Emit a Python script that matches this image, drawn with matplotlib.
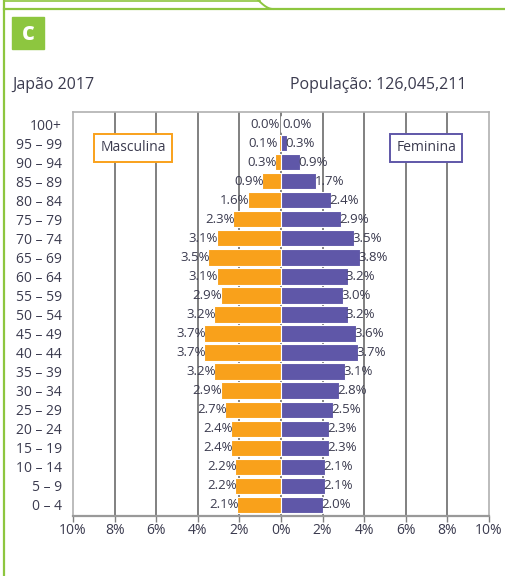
import matplotlib.pyplot as plt
import numpy as np
from matplotlib.lines import Line2D
from matplotlib.patches import Rectangle

plt.rcParams['font.family'] = ['Open Sans', 'DejaVu Sans']

ages = ['0 – 4', '5 – 9', '10 – 14', '15 – 19', '20 – 24', '25 – 29', '30 – 34',
        '35 – 39', '40 – 44', '45 – 49', '50 – 54', '55 – 59', '60 – 64', '65 – 69',
        '70 – 74', '75 – 79', '80 – 84', '85 – 89', '90 – 94', '95 – 99', '100+']
male = [2.1, 2.2, 2.2, 2.4, 2.4, 2.7, 2.9, 3.2, 3.7, 3.7, 3.2, 2.9, 3.1, 3.5,
        3.1, 2.3, 1.6, 0.9, 0.3, 0.1, 0.0]
female = [2.0, 2.1, 2.1, 2.3, 2.3, 2.5, 2.8, 3.1, 3.7, 3.6, 3.2, 3.0, 3.2, 3.8,
          3.5, 2.9, 2.4, 1.7, 0.9, 0.3, 0.0]
ticks = [-10, -8, -6, -4, -2, 0, 2, 4, 6, 8, 10]

orange = '#F9A11B'
purple = '#5F57A8'
green = '#8DC63F'
txt = '#3b3b4f'

fig = plt.figure(figsize=(5.05, 5.76), dpi=100)
ax = fig.add_axes([73/505, 60/576, 416/505, 404/576])

y = np.arange(len(ages))
ax.barh(y, [-v for v in male], height=0.86, color=orange, edgecolor='white', linewidth=0.8, zorder=3)
ax.barh(y, female, height=0.86, color=purple, edgecolor='white', linewidth=0.8, zorder=3)

for i, (m, f) in enumerate(zip(male, female)):
    om = 0.08 if m > 0.2 else -0.06
    of = 0.08 if f > 0.2 else -0.06
    ax.text(-m + om, i, '%.1f%%' % m, ha='right', va='center', fontsize=9.5,
            color=txt, zorder=4)
    ax.text(f - of, i, '%.1f%%' % f, ha='left', va='center', fontsize=9.5,
            color=txt, zorder=4)

for t in ticks[1:-1]:
    ax.axvline(t, color='#808080', linewidth=1.4, zorder=1)

ax.set_xlim(-10, 10)
ax.set_ylim(-0.58, 20.63)
ax.set_xticks(ticks)
ax.set_xticklabels(['%d%%' % abs(t) for t in ticks], fontsize=10, color=txt)
ax.set_yticks(y)
ax.set_yticklabels(ages, fontsize=10, color=txt)
ax.tick_params(axis='y', length=0, pad=8)
ax.tick_params(axis='x', length=4, width=1, color='#808080', pad=1)
for s in ax.spines.values():
    s.set_color('#b0b0b0')
    s.set_linewidth(1.2)
ax.spines['bottom'].set_color('#999999')
ax.spines['bottom'].set_linewidth(1.6)

ax.text(0.144, 0.911, 'Masculina', transform=ax.transAxes, ha='center', va='center',
        fontsize=10, color=txt, zorder=5,
        bbox=dict(boxstyle='square,pad=0.45', fc='white', ec=orange, lw=1.4))
ax.text(0.849, 0.911, 'Feminina', transform=ax.transAxes, ha='center', va='center',
        fontsize=10, color=txt, zorder=5,
        bbox=dict(boxstyle='square,pad=0.45', fc='white', ec=purple, lw=1.4))

# titles
fig.text(12/505, 1 - 85/576, 'Japão 2017', ha='left', va='center', fontsize=11.5, color=txt)
fig.text(467/505, 1 - 85/576, 'População: 126,045,211', ha='right', va='center',
         fontsize=11.5, color=txt)

# green "c" badge
fig.patches.append(Rectangle((12/505, 1 - 49/576), 32/505, 32/576, transform=fig.transFigure,
                             color=green, zorder=2))
fig.text(28/505, 1 - 34/576, 'c', ha='center', va='center', fontsize=18,
         fontweight='bold', color='white', zorder=3)

# green frame
fx = 4/505
fig.add_artist(Line2D([fx, fx], [0, 1], transform=fig.transFigure, color=green, lw=1.6))
fig.add_artist(Line2D([fx, 260/505], [1 - 1/576, 1 - 1/576], transform=fig.transFigure,
                      color=green, lw=1.2))
fig.add_artist(Line2D([fx, 1], [1 - 9/576, 1 - 9/576], transform=fig.transFigure,
                      color=green, lw=1.6))
cx = np.linspace(258, 273, 20)
cy = 9 * np.sin((cx - 258) / 15 * np.pi / 2)
fig.add_artist(Line2D(cx/505, 1 - cy/576, transform=fig.transFigure, color=green, lw=1.4))

fig.savefig('out.png', dpi=100)
